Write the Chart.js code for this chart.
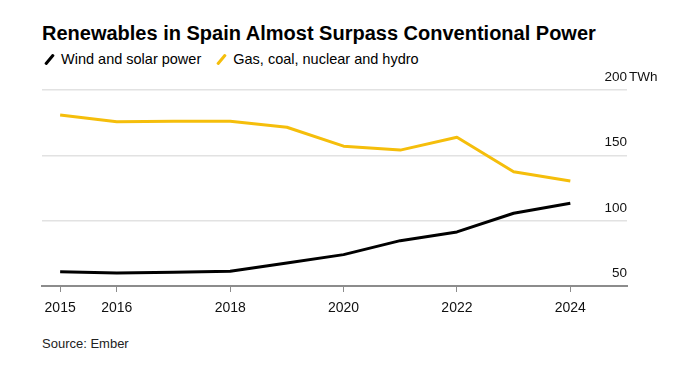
<!DOCTYPE html>
<html>
<head>
<meta charset="utf-8">
<script src="https://cdn.jsdelivr.net/npm/chart.js@4.4.1/dist/chart.umd.min.js"></script>
<style>
  html, body { margin: 0; padding: 0; background: #fff; }
  body { width: 681px; height: 367px; position: relative; overflow: hidden;
         font-family: "Liberation Sans", Arial, Helvetica, sans-serif; color: #000; }
  #title { position: absolute; left: 42px; top: 21px; font-size: 20px; font-weight: bold;
           line-height: 24px; white-space: nowrap; }
  #legend { position: absolute; left: 42px; top: 50px; font-size: 14.5px; line-height: 18px;
            white-space: nowrap; }
  #legend .item { display: inline-block; margin-right: 13px; }
  #legend .sw { display: inline-block; width: 3px; height: 13px; margin: 0 10px 0 6px;
                transform: rotate(40deg); vertical-align: -2px; border-radius: 1px; }
  #source { position: absolute; left: 42px; top: 336px; font-size: 13px; line-height: 16px; color: #222; }
  #wrap { position: absolute; left: 0; top: 0; width: 681px; height: 367px; }
</style>
</head>
<body>
<div id="title">Renewables in Spain Almost Surpass Conventional Power</div>
<div id="legend"></div>
<div id="source">Source: Ember</div>
<div id="wrap"><canvas id="c"></canvas></div>
<script>
// values (TWh)
const years = [2015, 2016, 2017, 2018, 2019, 2020, 2021, 2022, 2023, 2024];
const windSolar = [61, 60, 60.5, 61.3, 67.6, 74, 84.7, 91.4, 105.7, 113.3];
const conventional = [180.8, 175.7, 176, 176, 171.5, 157, 154, 163.8, 137.4, 130.3];
const seriesNames = ['Wind and solar power', 'Gas, coal, nuclear and hydro'];
const seriesColors = ['#000000', '#f5be0b'];
const xTicks = [2015, 2016, 2018, 2020, 2022, 2024];
const yTicks = [50, 100, 150, 200];

// legend with the little slanted swatches
document.getElementById('legend').innerHTML = seriesNames.map((n, i) =>
  `<span class="item"><span class="sw" style="background:${seriesColors[i]}"></span>${n}</span>`
).join('');

// y labels sit above their gridline, right-aligned to its end; "TWh" hangs past the top one
const yLabels = {
  id: 'y-labels',
  afterDraw(chart) {
    const { ctx, chartArea, scales } = chart;
    ctx.save();
    ctx.font = '13.5px "Liberation Sans", Arial, sans-serif';
    ctx.fillStyle = '#111';
    ctx.textBaseline = 'alphabetic';
    yTicks.forEach(v => {
      const py = scales.y.getPixelForValue(v);
      ctx.textAlign = 'right';
      ctx.fillText(String(v), chartArea.right, py - 9);
      if (v === yTicks[yTicks.length - 1]) {
        ctx.textAlign = 'left';
        ctx.fillText('TWh', chartArea.right + 2, py - 9);
      }
    });
    ctx.restore();
  },
};

const toPts = vals => vals.map((v, i) => ({ x: years[i], y: v }));

new Chart(document.getElementById('c'), {
  type: 'line',
  data: {
    datasets: [
      {
        label: seriesNames[1],
        data: toPts(conventional),
        borderColor: seriesColors[1],
        borderWidth: 3,
        pointRadius: 0,
        tension: 0,
        borderJoinStyle: 'round',
      },
      {
        label: seriesNames[0],
        data: toPts(windSolar),
        borderColor: seriesColors[0],
        borderWidth: 3,
        pointRadius: 0,
        tension: 0,
        borderJoinStyle: 'round',
      },
    ],
  },
  options: {
    responsive: true,
    maintainAspectRatio: false,
    animation: false,
    layout: { padding: { left: 42, right: 54, top: 90, bottom: 51 } },
    scales: {
      x: {
        type: 'linear',
        min: 2014.68,
        max: 2025,
        afterBuildTicks: s => { s.ticks = xTicks.map(v => ({ value: v })); },
        afterFit: s => { s.height = 30; },
        ticks: {
          autoSkip: false, maxRotation: 0, padding: 8,
          color: '#111',
          font: { size: 14, family: '"Liberation Sans", Arial, sans-serif' },
          callback: v => String(v),
        },
        grid: { drawOnChartArea: false, drawTicks: true, tickLength: 6, color: '#8c8c8c', lineWidth: 1 },
        border: { color: '#8c8c8c', width: 2 },
      },
      y: {
        position: 'right',
        min: 50,
        max: 200,
        afterBuildTicks: s => { s.ticks = yTicks.map(v => ({ value: v })); },
        afterFit: s => { s.width = 0; },
        ticks: { display: false },
        grid: { color: '#e2e2e2', lineWidth: 1.5, drawTicks: false },
        border: { display: false },
      },
    },
    plugins: {
      legend: { display: false },
      tooltip: { enabled: false },
    },
  },
  plugins: [yLabels],
});
</script>
</body>
</html>
